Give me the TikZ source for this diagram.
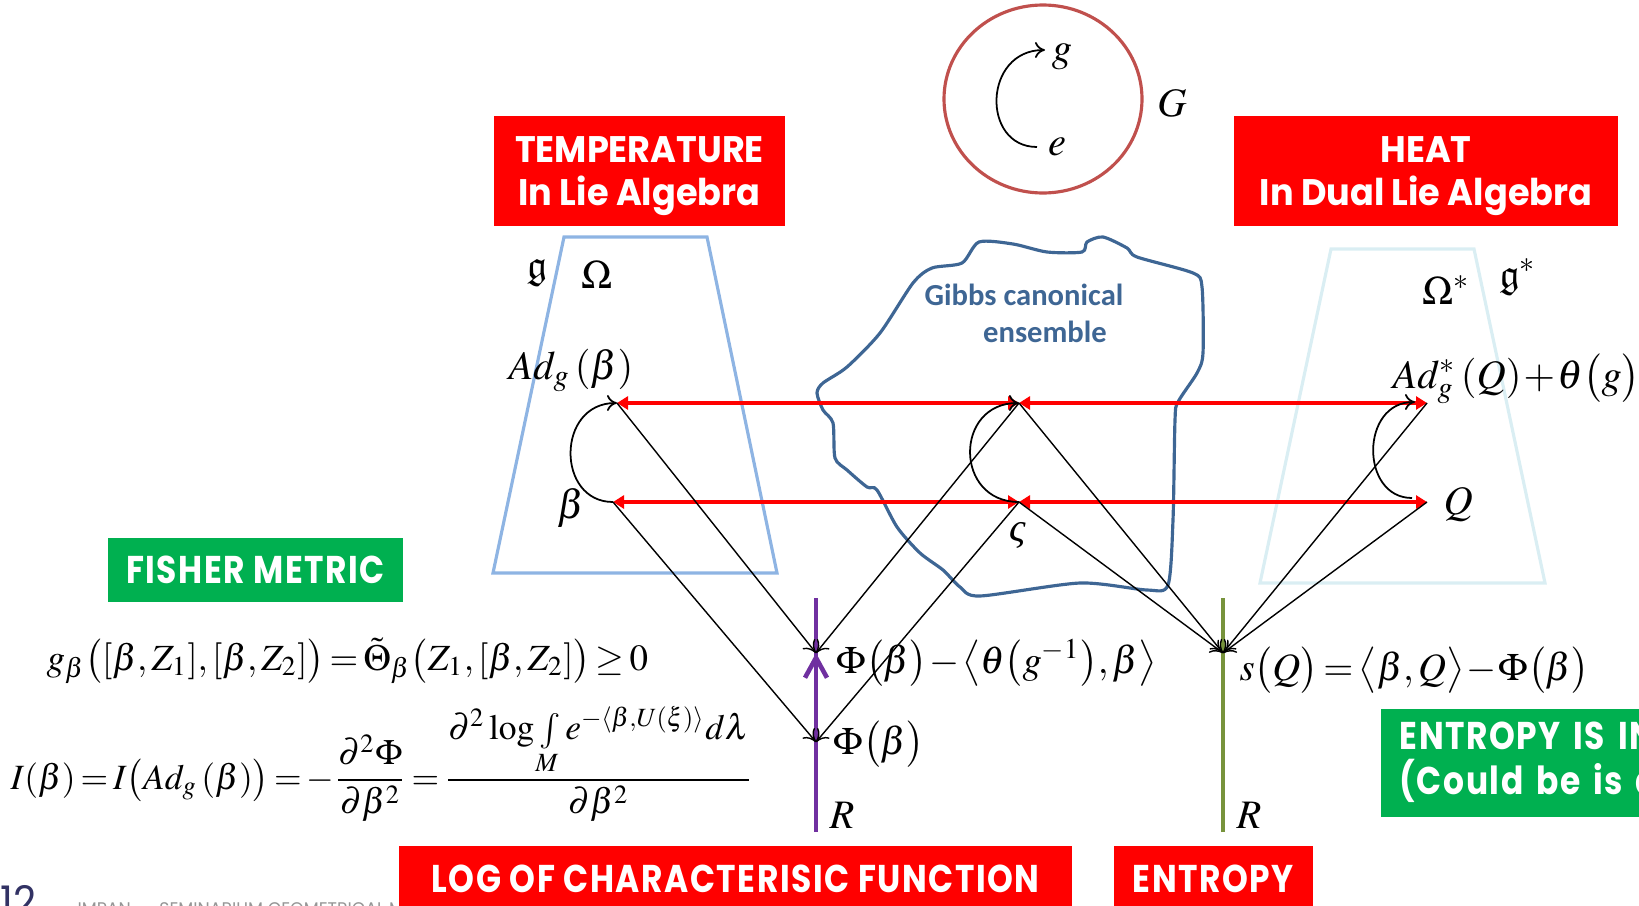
\documentclass[tikz,border=0pt]{standalone}
\usepackage{mathptmx}
\usepackage{amssymb}
\usepackage[no-math]{fontspec}
\usetikzlibrary{positioning,arrows.meta}
\usepackage{xcolor}
\newfontfamily\boxfont{Poppins}[FakeStretch=0.95]
\newfontfamily\narrowfont{Poppins}[FakeStretch=0.85,LetterSpace=4]
\newfontfamily\gibbsfont{Carlito}
\newfontfamily\sigmafont{Liberation Serif}
\newcommand\tightmath{\medmuskip=1mu\relax\thickmuskip=2.5mu\relax}
\definecolor{SlideRed}{RGB}{255,0,0}
\definecolor{SlideGreen}{RGB}{0,176,80}
\definecolor{GroupRed}{RGB}{192,80,77}
\definecolor{AlgBlue}{RGB}{142,180,227}
\definecolor{DualBlue}{RGB}{218,238,243}
\definecolor{GibbsBlue}{RGB}{62,102,148}
\definecolor{AxisPurple}{RGB}{112,48,160}
\definecolor{AxisGreen}{RGB}{119,147,60}
\definecolor{FootNavy}{RGB}{50,50,100}
\definecolor{FootGray}{RGB}{150,150,150}

\begin{document}
\begin{tikzpicture}[
x=0.01cm,y=-0.01cm,
redbox/.style={
  fill=SlideRed,
  text=white,
  inner sep=0pt,
  align=center,
  text depth=0pt,
  font=\boxfont\bfseries\fontsize{10.5}{12}\selectfont
},
lowbox/.style={
  fill=SlideRed,
  text=white,
  inner sep=0pt,
  font=\narrowfont\bfseries\fontsize{11}{12.8}\selectfont
},
greenbox/.style={lowbox,fill=SlideGreen},
mlabel/.style={inner sep=0pt,font=\fontsize{11.5}{13}\selectfont\tightmath},
rlabel/.style={mlabel,anchor=base west,font=\fontsize{11}{13}\selectfont\tightmath},
gibbs/.style={inner sep=0pt,text=GibbsBlue,font=\gibbsfont\bfseries\fontsize{8.7}{10}\selectfont},
redarr/.style={{Triangle[length=1.1mm,width=1.3mm]}-{Triangle[length=1.1mm,width=1.3mm]},line width=1.1pt,draw=SlideRed},
maparr/.style={-{To[length=1.2mm,width=1.6mm]},line width=0.4pt},
turnarr/.style={-{To[length=1mm,width=1.6mm]},line width=0.5pt},
axisline/.style={line width=0.9pt}
]
\clip (0,0) rectangle (1639,906);

% the group G
\draw[draw=GroupRed,line width=0.9pt] (1043,99) ellipse [x radius=99, y radius=94];
\coordinate (e) at (1037,147);
\coordinate (g) at (1045,50);
\draw[turnarr] (e) .. controls +(-56,0) and +(-62,0) .. (g);
\node[mlabel] (glab) at (1062,57) {$g$};
\node[mlabel] (elab) at (1057,147) {$e$};
\node[mlabel] (Glab) at (1172,103) {$G$};

% algebra and dual algebra
\draw[draw=AlgBlue,line width=0.9pt] (564,237) -- (707,237) -- (777,573) -- (493,573) -- cycle;
\draw[draw=DualBlue,line width=0.9pt] (1331,249) -- (1474,249) -- (1545,583) -- (1260,583) -- cycle;

% Gibbs ensemble
\draw[draw=GibbsBlue,line width=0.9pt] plot[smooth cycle,tension=0.45] coordinates {
  (979,242) (1013,244) (1047,252) (1082,252) (1087,242) (1103,237) (1127,248) (1137,257)
  (1193,273) (1202,287) (1203,353) (1197,373) (1178,402) (1175,420) (1173,520) (1168,585)
  (1147,590) (1080,583) (980,596) (960,587) (943,570) (920,553) (897,527) (877,490)
  (867,487) (847,470) (835,458) (833,423) (823,410) (817,393) (823,383) (847,367)
  (880,333) (913,283) (932,268) (962,263)};
\node[gibbs] (gibbs1) at (1024,295) {Gibbs canonical};
\node[gibbs] (gibbs2) at (1045,332) {ensemble};

% points
\coordinate (adb) at (617,403);
\coordinate (beta) at (613,502);
\coordinate (cu) at (1019,403);
\coordinate (cl) at (1019,502);
\coordinate (ru) at (1427,403);
\coordinate (rq) at (1427,502);
\coordinate (ruarc) at (1415,402);
\coordinate (rqarc) at (1412,498);
\coordinate (phit) at (816,653);
\coordinate (phib) at (816,742);
\coordinate (sq) at (1223,653);
\coordinate (ptop) at (816,598);
\coordinate (pbot) at (816,832);
\coordinate (stop) at (1223,598);
\coordinate (sbot) at (1223,832);

% real lines
\draw[draw=AxisPurple,axisline] (pbot) -- (ptop);
\draw[draw=AxisGreen,axisline] (sbot) -- (stop);
\draw[draw=AxisPurple,line width=1.3pt,-{Straight Barb[length=2mm,width=2.2mm]}] (phib) -- (phit);

% red arrows
\draw[redarr] (adb) -- (cu);
\draw[redarr] (cu) -- (ru);
\draw[redarr] (beta) -- (cl);
\draw[redarr] (cl) -- (rq);

% maps to R
\draw[maparr] (adb) -- (phit);
\draw[maparr] (beta) -- (phib);
\draw[maparr] (cu) -- (phit);
\draw[maparr] (cl) -- (phib);
\draw[maparr] (cu) -- (sq);
\draw[maparr] (cl) -- (sq);
\draw[maparr] (ru) -- (sq);
\draw[maparr] (rq) -- (sq);

% action arcs
\draw[turnarr] (beta) .. controls +(-57,0) and +(-61,0) .. (adb);
\draw[turnarr] (cl) .. controls +(-65,0) and +(-65,0) .. (cu);
\draw[turnarr] (rqarc) .. controls +(-52,0) and +(-55,0) .. (ruarc);

% labels
\node[mlabel] (frak) at (537,273) {$\mathfrak{g}$};
\node[mlabel] (omega) at (597,275) {$\Omega$};
\node[mlabel] (omegas) at (1446,290) {$\Omega^{*}$};
\node[mlabel] (fraks) at (1518,277) {$\mathfrak{g}^{*}$};
\node[mlabel,anchor=base west] (adlab) at (508,379) {$Ad_{g}\,(\beta)$};
\node[mlabel,anchor=base west] (betalab) at (557,518) {$\beta$};
\node[mlabel] (sigmalab) at (1018,535) {\sigmafont\itshape ς};
\node[mlabel,anchor=base west] (adslab) at (1392,388) {$Ad_{g}^{*}\,(Q)+\theta\bigl(g\bigr)$};
\node[mlabel,anchor=base west] (qlab) at (1443,514) {$Q$};
\node[rlabel] (phitlab) at (836,673) {$\Phi\bigl(\beta\bigr)-\bigl\langle\theta\bigl(g^{-1}\bigr),\beta\bigr\rangle$};
\node[rlabel] (phiblab) at (833,754) {$\Phi\bigl(\beta\bigr)$};
\node[rlabel] (sqlab) at (1239,680) {$s\bigl(Q\bigr)=\bigl\langle\beta,Q\bigr\rangle-\Phi\bigl(\beta\bigr)$};
\node[mlabel,anchor=base west] (rlab1) at (829,828) {$R$};
\node[mlabel,anchor=base west] (rlab2) at (1236,828) {$R$};

% Fisher metric
\node[mlabel,anchor=base west,font=\fontsize{10.5}{12}\selectfont\tightmath] (fishereq) at (46,670)
  {$g_{\beta}\bigl([\beta,Z_{1}],[\beta,Z_{2}]\bigr)=\tilde{\Theta}_{\beta}\bigl(Z_{1},[\beta,Z_{2}]\bigr)\geq 0$};
\node[mlabel,anchor=base west,font=\fontsize{10.1}{12}\selectfont\tightmath] (infoeq) at (10,789)
  {$\displaystyle I(\beta)=I\bigl(Ad_{g}\,(\beta)\bigr)=-\frac{\partial^{2}\Phi}{\partial\beta^{2}}=\frac{\partial^{2}\log\int\limits_{M}e^{-\langle\beta,U(\xi)\rangle}d\lambda}{\partial\beta^{2}}$};

% footer
\node[anchor=base west,inner sep=0pt,text=FootNavy,font=\boxfont\fontsize{12}{12}\selectfont] (pagenum) at (0,916) {12};
\node[anchor=base west,inner sep=0pt,text=FootGray,font=\boxfont\fontsize{5.2}{6}\selectfont] (footer) at (77,915) {IMPAN -- SEMINARIUM GEOMETRICAL METHODS};

% boxes
\node[redbox,minimum width=2.91cm,minimum height=1.10cm] (temp) at (639.5,171) {TEMPERATURE\\In Lie Algebra};
\node[redbox,minimum width=3.84cm,minimum height=1.10cm] (heat) at (1426,171) {HEAT\\In Dual Lie Algebra};
\node[greenbox,minimum width=2.95cm,minimum height=0.64cm] (fisher) at (255.5,570) {FISHER METRIC};
\node[lowbox,anchor=north,minimum width=6.73cm,minimum height=0.66cm] (logchar) at (735.5,845) {LOG OF CHARACTERISIC FUNCTION};
\node[lowbox,anchor=north,minimum width=1.99cm,minimum height=0.66cm] (entropy) at (1213.5,845) {ENTROPY};
\node[greenbox,anchor=north west,text width=3cm,minimum height=1.08cm,align=left,inner xsep=0.19cm] (invariant) at (1380,708) {ENTROPY IS IN\\(Could be is a};
\end{tikzpicture}
\end{document}
